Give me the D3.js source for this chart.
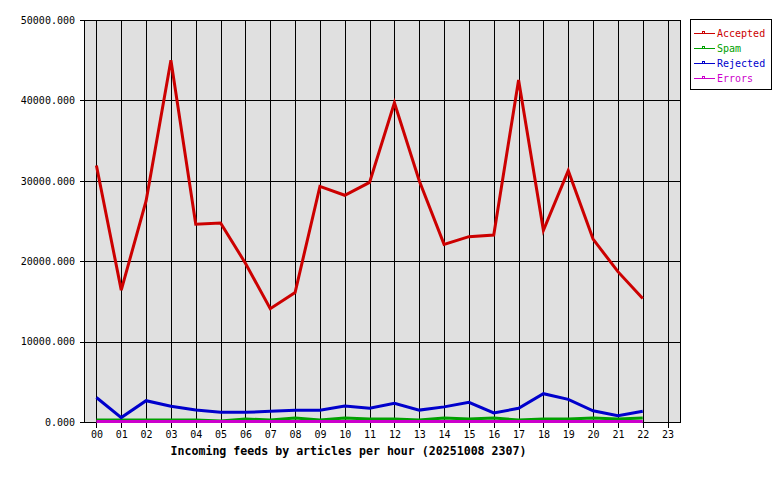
<!DOCTYPE html>
<html>
<head>
<meta charset="utf-8">
<script src="https://cdn.jsdelivr.net/npm/d3@7"></script>
<style>
  html, body { margin: 0; padding: 0; background: #ffffff; }
  svg { display: block; }
  text { font-family: "DejaVu Sans Mono", monospace; }
</style>
</head>
<body>
<svg id="chart" width="780" height="480"></svg>
<script>
// ---- data ----
const hours = ["00","01","02","03","04","05","06","07","08","09","10","11",
               "12","13","14","15","16","17","18","19","20","21","22","23"];
const accepted = [31900, 16400, 27500, 45000, 24600, 24750, 19750, 14100, 16100, 29300, 28200, 29800,
                  39700, 30000, 22100, 23050, 23250, 42550, 23850, 31250, 22750, 18700, 15350];
const spam     = [250, 250, 250, 250, 250, 110, 380, 250, 500, 250, 500, 380,
                  380, 250, 500, 380, 500, 250, 380, 380, 500, 380, 500];
const rejected = [3050, 550, 2650, 1950, 1480, 1200, 1200, 1330, 1450, 1450, 1980, 1700,
                  2320, 1480, 1880, 2450, 1120, 1700, 3520, 2820, 1400, 780, 1330];
const errors   = [60, 60, 60, 60, 60, 60, 60, 60, 60, 60, 60, 60,
                  60, 60, 60, 60, 60, 60, 60, 60, 60, 60, 60];
const yTicks = [0, 10000, 20000, 30000, 40000, 50000];
const seriesNames  = ["Accepted", "Spam", "Rejected", "Errors"];
const seriesColors = ["#cc0000", "#00a000", "#0000cc", "#cc00cc"];
const title = "Incoming feeds by articles per hour (20251008 2307)";

// ---- layout ----
const svg = d3.select("#chart");
const L = 84, R = 680, T = 20, B = 422;

const x = d3.scalePoint().domain(hours).range([L, R]).padding(0.5);
const y = d3.scaleLinear().domain([0, 50000]).range([B, T]);

// plot background
svg.append("rect").attr("x", L).attr("y", T).attr("width", R - L).attr("height", B - T)
  .attr("fill", "#e0e0e0");

// grid
const grid = svg.append("g").attr("stroke", "#000").attr("stroke-width", 1)
  .attr("shape-rendering", "crispEdges");
grid.selectAll("line.v").data(hours).enter().append("line")
  .attr("x1", d => Math.round(x(d)) + 0.5).attr("x2", d => Math.round(x(d)) + 0.5)
  .attr("y1", T).attr("y2", B);
grid.selectAll("line.h").data(yTicks).enter().append("line")
  .attr("x1", L).attr("x2", R)
  .attr("y1", d => Math.round(y(d)) + 0.5).attr("y2", d => Math.round(y(d)) + 0.5);

// frame
svg.append("rect").attr("x", L + 0.5).attr("y", T + 0.5).attr("width", R - L).attr("height", B - T)
  .attr("fill", "none").attr("stroke", "#000").attr("shape-rendering", "crispEdges");

// axes
const yAxis = d3.axisLeft(y).tickValues(yTicks).tickFormat(d => d.toFixed(3))
  .tickSize(4).tickPadding(5);
const gy = svg.append("g").attr("transform", `translate(${L},0)`).call(yAxis);
const xAxis = d3.axisBottom(x).tickSize(6).tickPadding(3);
const gx = svg.append("g").attr("transform", `translate(0,${B})`).call(xAxis);
[gy, gx].forEach(g => {
  g.select(".domain").remove();
  g.selectAll(".tick line").attr("stroke", "#000").attr("shape-rendering", "crispEdges");
  g.selectAll("text").attr("fill", "#000").style("font-size", "10px")
    .style("font-family", "DejaVu Sans Mono, monospace");
});

// lines
const allSeries = [accepted, spam, rejected, errors];
const line = d3.line().x((d, i) => x(hours[i])).y(d => y(d));
allSeries.forEach((vals, k) => {
  svg.append("path").datum(vals)
    .attr("d", line)
    .attr("fill", "none")
    .attr("stroke", seriesColors[k])
    .attr("stroke-width", 3)
    .attr("stroke-linejoin", "miter");
});

// title
svg.append("text").attr("x", (170 + 527) / 2).attr("y", 455)
  .attr("text-anchor", "middle").attr("fill", "#000")
  .style("font-size", "11.6px").style("font-weight", "bold")
  .text(title);

// legend
const lg = svg.append("g");
lg.append("rect").attr("x", 690.5).attr("y", 19.5).attr("width", 81).attr("height", 70)
  .attr("fill", "#fff").attr("stroke", "#000").attr("shape-rendering", "crispEdges");
seriesNames.forEach((name, i) => {
  const ly = 33.5 + i * 15;
  lg.append("line").attr("x1", 694).attr("x2", 715).attr("y1", ly).attr("y2", ly)
    .attr("stroke", seriesColors[i]).attr("shape-rendering", "crispEdges");
  lg.append("rect").attr("x", 702.5).attr("y", ly - 2).attr("width", 2).attr("height", 2)
    .attr("fill", "none").attr("stroke", seriesColors[i]).attr("shape-rendering", "crispEdges");
  lg.append("text").attr("x", 717).attr("y", ly + 3.5).attr("fill", seriesColors[i])
    .style("font-size", "10px").text(name);
});
</script>
</body>
</html>
